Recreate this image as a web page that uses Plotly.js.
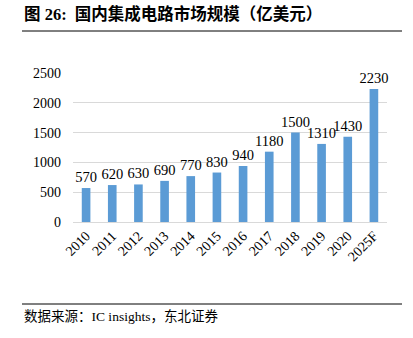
<!DOCTYPE html>
<html>
<head>
<meta charset="utf-8">
<script src="https://cdn.plot.ly/plotly-3.0.1.min.js"></script>
<style>html,body{margin:0;padding:0;background:#fff;}#chart{width:413px;height:338px;}</style>
</head>
<body>
<div id="chart"></div>
<script>
const years = ["2010","2011","2012","2013","2014","2015","2016","2017","2018","2019","2020","2025F"];
const marketSize = [570,620,630,690,770,830,940,1180,1500,1310,1430,2230];
const yTicks = [0,500,1000,1500,2000,2500];

const serif = "Liberation Serif, 'Times New Roman', 'Noto Serif CJK SC', 'Noto Sans CJK SC', serif";
const cjk = "Liberation Serif, 'Noto Sans CJK SC', sans-serif";

const data = [{
  type: "bar",
  x: years,
  y: marketSize,
  marker: {color: "#5B9BD5"},
  width: 0.33,
  text: marketSize.map(String),
  textposition: "outside",
  constraintext: "none",
  cliponaxis: false,
  textfont: {family: serif, size: 14.5, color: "#000"},
  hoverinfo: "skip"
}];

const layout = {
  width: 413, height: 338,
  margin: {l: 73, r: 26, t: 73, b: 116},
  paper_bgcolor: "#fff", plot_bgcolor: "#fff",
  showlegend: false,
  bargap: 0.67,
  xaxis: {
    type: "category",
    tickangle: -45,
    tickfont: {family: serif, size: 14, color: "#000"},
    showgrid: false, showline: false, ticks: "",
    ticklabelstandoff: 2,
    automargin: false
  },
  yaxis: {
    range: [0, 2500],
    tickvals: yTicks,
    tickfont: {family: serif, size: 14, color: "#000"},
    showgrid: true, gridcolor: "#d9d9d9", gridwidth: 1,
    zeroline: true, zerolinecolor: "#d9d9d9", zerolinewidth: 1,
    showline: false, ticks: "", ticklen: 0,
    ticklabelstandoff: 11,
    automargin: false
  },
  shapes: [
    {type: "line", xref: "paper", yref: "paper", x0: -51/314, x1: 329/314, y0: (338-116-31)/149, y1: (338-116-31)/149, line: {color: "#000", width: 1}},
    {type: "line", xref: "paper", yref: "paper", x0: -51/314, x1: 329/314, y0: (338-116-304)/149, y1: (338-116-304)/149, line: {color: "#000", width: 1}}
  ],
  annotations: [
    {text: "<b>图 26:&nbsp;&nbsp;国内集成电路市场规模（亿美元）</b>", xref: "paper", yref: "paper",
     x: -51/314, y: (338-116-14)/149, xanchor: "left", yanchor: "middle", showarrow: false,
     font: {family: cjk, size: 16.5, color: "#000"}},
    {text: "数据来源：IC insights，东北证券", xref: "paper", yref: "paper",
     x: -51/314, y: (338-116-316)/149, xanchor: "left", yanchor: "middle", showarrow: false,
     font: {family: cjk, size: 13.5, color: "#000"}}
  ]
};

Plotly.newPlot("chart", data, layout, {staticPlot: true, displayModeBar: false});
</script>
</body>
</html>
